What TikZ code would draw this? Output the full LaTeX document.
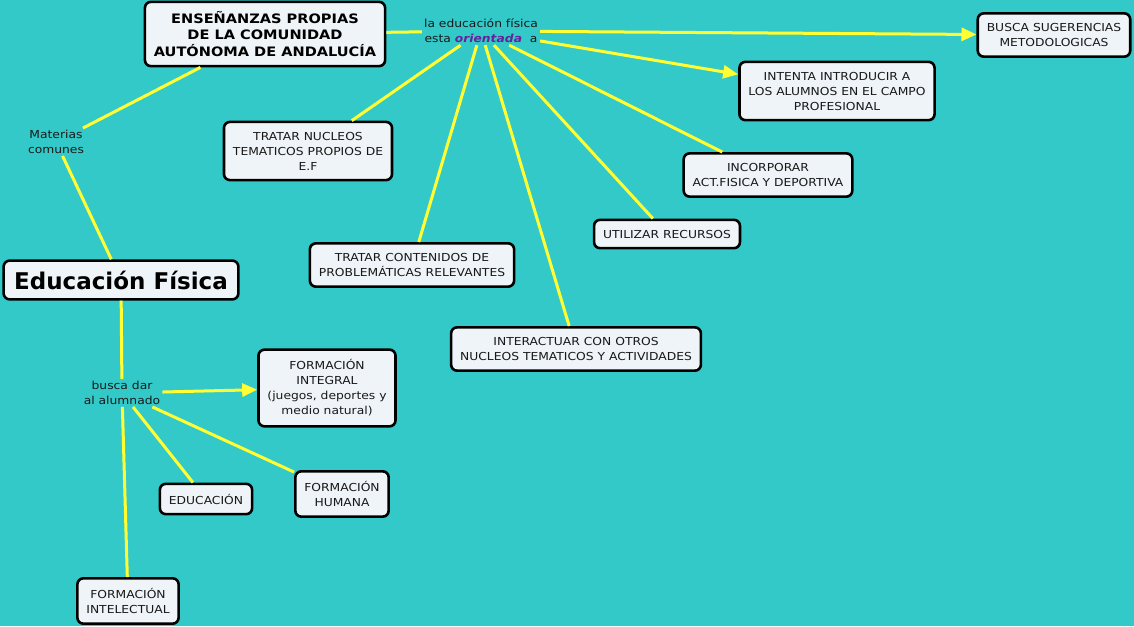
\documentclass[tikz,border=0pt]{standalone}
\usepackage{fontspec}
\setmainfont{DejaVu Sans}[FakeStretch=1.12]
\newfontfamily\titlefont{DejaVu Sans}
\usetikzlibrary{arrows.meta,positioning}
\definecolor{mapbg}{RGB}{51,201,201}
\definecolor{boxfill}{RGB}{238,244,247}
\definecolor{linkyellow}{RGB}{255,255,51}
\definecolor{orientpurple}{RGB}{102,34,153}
\definecolor{textgray}{RGB}{25,25,25}

\begin{document}
\begin{tikzpicture}
  [x=1pt,y=-1pt,
   concept/.style={rectangle,rounded corners=6pt,draw=black,line width=2.6pt,
                   fill=boxfill,align=center,inner xsep=9pt,inner ysep=10pt,
                   text=textgray,font=\fontsize{11}{15}\selectfont},
   linkword/.style={align=center,inner sep=2pt,text=textgray,
                    font=\fontsize{11}{15}\selectfont},
   link/.style={draw=linkyellow,line width=3pt},
   >={Triangle[length=15pt,width=13pt]}]
  \useasboundingbox (0,0) rectangle (1134,626);
  \fill[mapbg] (0,0) rectangle (1134,626);
  % main concepts
  \node[concept,text=black,font=\fontsize{13}{16.5}\selectfont\bfseries,inner ysep=9.5pt]
        (ensenanzas) at (265,34)
        {ENSEÑANZAS PROPIAS\\DE LA COMUNIDAD\\AUTÓNOMA DE ANDALUCÍA};
  \node[concept,text=black,font=\titlefont\fontsize{23}{28}\selectfont\bfseries,
        inner xsep=10.5pt,inner ysep=10pt]
        (edfisica) at (121,280) {Educación Física};
  % linking words
  \node[linkword] (orientada) at (481,31)
        {la educación física\\esta \textcolor{orientpurple}{\bfseries\itshape orientada}\ \ a};
  \node[linkword] (materias) at (56,142) {Materias\\comunes};
  \node[linkword] (buscadar) at (122,393) {busca dar\\al alumnado};
  % concepts on the right
  \node[concept] (sugerencias) at (1054,35) {BUSCA SUGERENCIAS\\METODOLOGICAS};
  \node[concept] (campo)       at (837,91)  {INTENTA INTRODUCIR A\\LOS ALUMNOS EN EL CAMPO\\PROFESIONAL};
  \node[concept] (nucleos)     at (308,151) {TRATAR NUCLEOS\\TEMATICOS PROPIOS DE\\E.F};
  \node[concept] (incorporar)  at (768,175) {INCORPORAR\\ACT.FISICA Y DEPORTIVA};
  \node[concept] (recursos)    at (667,234) {UTILIZAR RECURSOS};
  \node[concept] (contenidos)  at (412,265) {TRATAR CONTENIDOS DE\\PROBLEMÁTICAS RELEVANTES};
  \node[concept] (interactuar) at (576,349) {INTERACTUAR CON OTROS\\NUCLEOS TEMATICOS Y ACTIVIDADES};
  % concepts below
  \node[concept] (integral)    at (327,388) {FORMACIÓN\\INTEGRAL\\(juegos, deportes y\\medio natural)};
  \node[concept] (educacion)   at (206,499) {EDUCACIÓN};
  \node[concept] (humana)      at (342,494) {FORMACIÓN\\HUMANA};
  \node[concept] (intelectual) at (128,601) {FORMACIÓN\\INTELECTUAL};
  % links
  \draw[link] (ensenanzas) -- (orientada);
  \draw[link,->] (orientada) -- (sugerencias);
  \draw[link,->] (orientada) -- (campo);
  \draw[link] (orientada) -- (nucleos);
  \draw[link] (orientada) -- (contenidos);
  \draw[link] (orientada) -- (interactuar);
  \draw[link] (orientada) -- (recursos);
  \draw[link] (orientada) -- (incorporar);
  \draw[link] (ensenanzas) -- (materias);
  \draw[link] (materias) -- (edfisica);
  \draw[link] (edfisica) -- (buscadar);
  \draw[link,->] (buscadar) -- (integral);
  \draw[link] (buscadar) -- (educacion);
  \draw[link] (buscadar) -- (humana);
  \draw[link] (buscadar) -- (intelectual);
\end{tikzpicture}
\end{document}
